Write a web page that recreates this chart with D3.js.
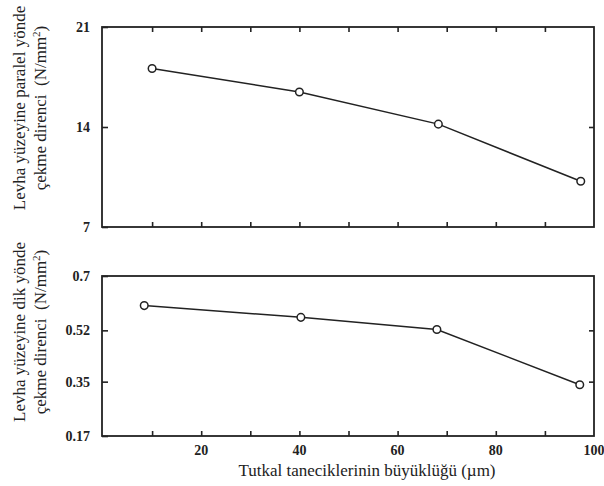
<!DOCTYPE html>
<html><head><meta charset="utf-8">
<script src="https://cdn.jsdelivr.net/npm/d3@7"></script>
<style>body{margin:0;background:#fff}svg{display:block}text{font-family:"Liberation Serif","Times New Roman",serif;fill:#222}</style>
</head><body><svg id="c" width="604" height="486"></svg>
<script>
const xTicks = [10,20,30,40,50,60,70,80,90];
const xTickLabels = [20,40,60,80,100];
const sizes = [10, 40, 68.3, 97.3];
const parallelValues = [18.1, 16.45, 14.2, 10.2];
const sizesBottom = [8.4, 40.3, 68, 97.1];
const perpendicularValues = [0.602, 0.563, 0.523, 0.34];
const topYTicks = [7, 14, 21];
const bottomYTicks = [0.17, 0.35, 0.52, 0.7];

const svg = d3.select("#c");
const ink = "#222";
const x = d3.scaleLinear().domain([0,100]).range([103,594]);
const L = 102, R = 594;

function panel(top, bottom, domain, yTicks, fmt, xs, ys, opts) {
  const y = d3.scaleLinear().domain(domain).range([bottom, top]);
  const g = svg.append("g");
  g.append("rect").attr("x", L).attr("y", top).attr("width", R-L).attr("height", bottom-top)
    .attr("fill","none").attr("stroke", ink).attr("stroke-width", 1.8);
  const bAx = d3.axisBottom(x).tickValues(xTicks).tickSize(-5).tickFormat("");
  g.append("g").attr("transform",`translate(0,${bottom})`).call(bAx)
    .call(s=>{s.select(".domain").remove(); s.selectAll("line").attr("stroke",ink).attr("stroke-width",1.6);});
  if (opts.topTicks) {
    const tAx = d3.axisTop(x).tickValues(xTicks).tickSize(-5).tickFormat("");
    g.append("g").attr("transform",`translate(0,${top})`).call(tAx)
      .call(s=>{s.select(".domain").remove(); s.selectAll("line").attr("stroke",ink).attr("stroke-width",1.6);});
  }
  const lAx = d3.axisLeft(y).tickValues(yTicks).tickSize(-6).tickPadding(12).tickFormat(fmt);
  g.append("g").attr("transform",`translate(${L},0)`).call(lAx)
    .call(s=>{s.select(".domain").remove();
      s.selectAll("line").attr("stroke",ink).attr("stroke-width",1.6);
      s.selectAll("text").attr("font-size",14).attr("font-weight","bold").attr("fill",ink)
        .style("font-family",'"Liberation Serif",serif');});
  const rAx = d3.axisRight(y).tickValues(yTicks.slice(1,-1)).tickSize(-5).tickFormat("");
  g.append("g").attr("transform",`translate(${R},0)`).call(rAx)
    .call(s=>{s.select(".domain").remove(); s.selectAll("line").attr("stroke",ink).attr("stroke-width",1.6);});
  const pts = xs.map((v,i)=>[x(v), y(ys[i])]);
  g.append("path").attr("d", d3.line()(pts)).attr("fill","none").attr("stroke",ink).attr("stroke-width",1.5);
  g.selectAll("circle").data(pts).join("circle").attr("cx",d=>d[0]).attr("cy",d=>d[1]).attr("r",3.8)
    .attr("fill","#fff").attr("stroke",ink).attr("stroke-width",1.5);
  return y;
}

panel(27, 227, [7,21], topYTicks, d=>String(d), sizes, parallelValues, {topTicks:true});
panel(276, 436, [0.17,0.7], bottomYTicks, d=>String(d), sizesBottom, perpendicularValues, {topTicks:false});

svg.append("g").selectAll("text").data(xTickLabels).join("text")
  .attr("x", d=>x(d)).attr("y", 455).attr("text-anchor","middle")
  .attr("font-size",14).attr("font-weight","bold").text(d=>d);

svg.append("text").attr("x", 367).attr("y", 476).attr("text-anchor","middle")
  .attr("font-size",17).text("Tutkal taneciklerinin büyüklüğü (µm)");

function ytitle(cy, l1, l2) {
  svg.append("text").attr("transform",`translate(25,${cy}) rotate(-90)`).attr("text-anchor","middle").attr("font-size",17).text(l1);
  const t2 = svg.append("text").attr("transform",`translate(46,${cy}) rotate(-90)`).attr("text-anchor","middle").attr("font-size",17);
  t2.append("tspan").text(l2);
  t2.append("tspan").text("(N/mm");
  t2.append("tspan").attr("font-size",11).attr("dy",-6).text("2");
  t2.append("tspan").attr("dy",6).text(")");
}
ytitle(108, "Levha yüzeyine paralel yönde", "çekme direnci\u00a0\u00a0");
ytitle(332, "Levha yüzeyine dik yönde", "çekme direnci\u00a0\u00a0");
</script></body></html>
